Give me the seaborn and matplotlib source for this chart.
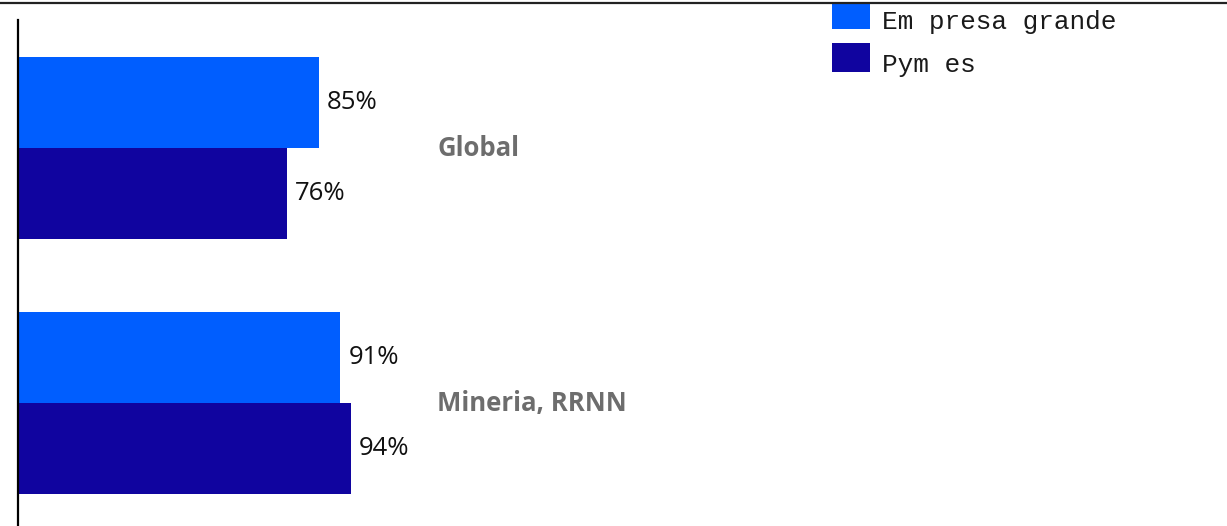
import pandas as pd
import numpy as np
import matplotlib
matplotlib.use('Agg')
import matplotlib.pyplot as plt
import seaborn as sns
from matplotlib.lines import Line2D
from matplotlib.patches import Rectangle

# datos del grafico
categorias = ['Global', 'Mineria, RRNN']
series = ['Em presa grande', 'Pym es']
empresa_grande = [85, 91]
pymes = [76, 94]
colores = ['#005eff', '#10049f']

df = pd.DataFrame({
    'categoria': categorias * 2,
    'serie': [series[0]] * 2 + [series[1]] * 2,
    'valor': empresa_grande + pymes,
})

sns.set_style('white')
plt.rcParams['font.family'] = ['Open Sans', 'DejaVu Sans']

W, H = 1227, 526
fig = plt.figure(figsize=(W / 100, H / 100), dpi=100)
ax = fig.add_axes([18 / W, 0, 1 - 18 / W, (H - 20) / H])

sns.barplot(data=df, y='categoria', x='valor', hue='serie', orient='h',
            palette=colores, width=0.714, ax=ax, saturation=1, legend=True,
            linewidth=0)

for cont in ax.containers:
    ax.bar_label(cont, labels=[f'{v:.0f}%' for v in cont.datavalues],
                 padding=6, fontsize=18.5, color='#111111')

# etiquetas de categoria dentro del area
for i, cat in enumerate(categorias):
    ax.text(118.5, i, cat, ha='left', va='center', fontsize=18.5,
            fontweight='bold', color='#6d6d6d')

ax.set_xlim(0, (W - 18) / 3.54)
ax.set_ylim(1.482, -0.502)
ax.set_xticks([])
ax.set_yticks([])
ax.set_xlabel('')
ax.set_ylabel('')
for s in ['top', 'right', 'bottom']:
    ax.spines[s].set_visible(False)
ax.spines['left'].set_color('black')
ax.spines['left'].set_linewidth(1.6)

# leyenda dibujada a mano (cuadros + texto)
handles, labels = ax.get_legend_handles_labels()
ax.get_legend().remove()
cajas = [(2, 29), (43, 72)]
for h, lab, (y0, y1) in zip(handles, labels, cajas):
    fig.add_artist(Rectangle((832 / W, 1 - y1 / H), 38 / W, (y1 - y0) / H,
                             transform=fig.transFigure,
                             facecolor=h.get_facecolor(), linewidth=0))
    fig.text(882 / W, 1 - y1 / H, lab, ha='left', va='baseline',
             family='Liberation Mono', fontsize=18.8, color='#1a1a1a')

# linea superior
fig.add_artist(Line2D([0, 1], [1 - 2.5 / H, 1 - 2.5 / H],
                      transform=fig.transFigure, color='#222222', linewidth=1.6))

fig.savefig('out.png', dpi=100)
